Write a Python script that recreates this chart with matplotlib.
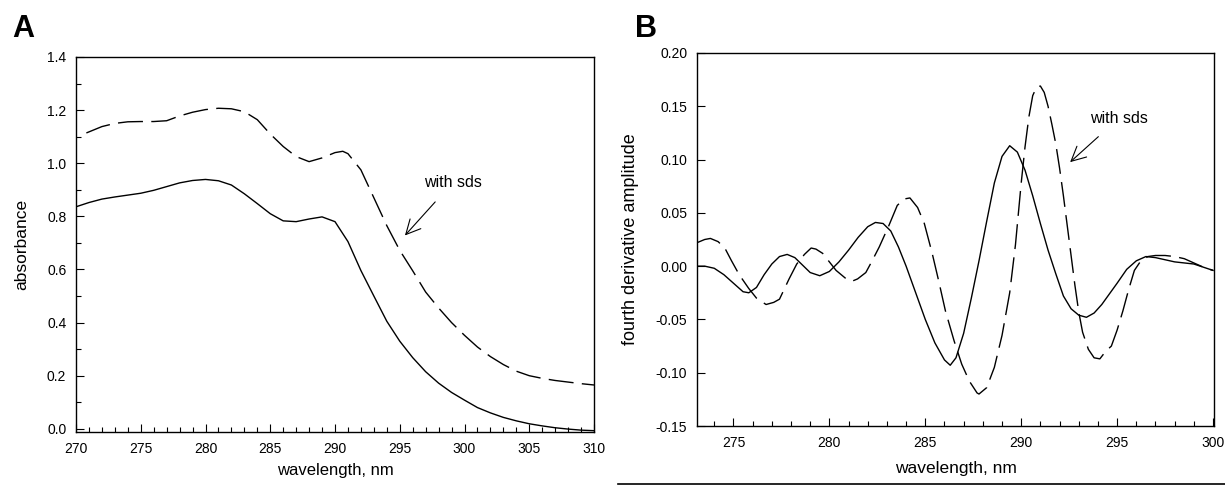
import matplotlib
matplotlib.use("Agg")
import matplotlib.pyplot as plt
from matplotlib.ticker import MultipleLocator, FormatStrFormatter
from matplotlib.lines import Line2D

plt.rcParams['font.family'] = ['Liberation Sans', 'DejaVu Sans']

# ---------------- Panel A data (absorbance) ----------------
a_wl_native = [270, 271, 272, 273, 274, 275, 276, 277, 278, 279, 280, 281, 282, 283,
               284, 285, 286, 287, 288, 289, 290, 291, 292, 293, 294, 295, 296, 297,
               298, 299, 300, 301, 302, 303, 304, 305, 306, 307, 308, 309, 310]
a_abs_native = [0.836, 0.852, 0.865, 0.873, 0.880, 0.887, 0.898, 0.912, 0.926, 0.935,
                0.939, 0.934, 0.918, 0.885, 0.848, 0.810, 0.783, 0.780, 0.790, 0.798,
                0.780, 0.705, 0.596, 0.500, 0.405, 0.330, 0.268, 0.215, 0.172, 0.137,
                0.108, 0.080, 0.060, 0.043, 0.030, 0.019, 0.011, 0.004, -0.001, -0.005,
                -0.007]
a_wl_sds = [270.8, 271.5, 272, 273, 274, 275, 276, 277, 278, 279, 280, 281, 282, 283,
            284, 285, 286, 287, 288, 289, 290, 290.6, 291, 292, 293, 294, 295, 296,
            297, 298, 299, 300, 301, 302, 303, 304, 305, 306, 307, 308, 309, 310]
a_abs_sds = [1.114, 1.128, 1.138, 1.150, 1.156, 1.157, 1.157, 1.160, 1.178, 1.192,
             1.202, 1.207, 1.205, 1.194, 1.164, 1.110, 1.063, 1.025, 1.006, 1.020,
             1.040, 1.045, 1.036, 0.975, 0.870, 0.765, 0.672, 0.595, 0.515, 0.455,
             0.400, 0.352, 0.308, 0.272, 0.242, 0.217, 0.200, 0.190, 0.182, 0.176,
             0.170, 0.165]

# ---------------- Panel B data (fourth derivative) ----------------
b_wl_native = [273.1, 273.5, 274.0, 274.5, 275.0, 275.5, 275.8, 276.2, 276.6, 277.0,
               277.4, 277.8, 278.2, 278.6, 279.0, 279.5, 280.0, 280.5, 281.0, 281.5,
               282.0, 282.4, 282.8, 283.2, 283.6, 284.0, 284.5, 285.0, 285.5, 286.0,
               286.3, 286.6, 287.0, 287.4, 287.8, 288.2, 288.6, 289.0, 289.4, 289.8,
               290.2, 290.6, 291.0, 291.4, 291.8, 292.2, 292.6, 293.0, 293.4, 293.8,
               294.2, 294.6, 295.0, 295.5, 296.0, 296.5, 297.0, 297.5, 298.0, 298.5,
               299.0, 299.5, 300.0]
b_amp_native = [0.000, 0.000, -0.002, -0.008, -0.016, -0.024, -0.025, -0.020, -0.008,
                0.002, 0.009, 0.011, 0.008, 0.001, -0.006, -0.009, -0.005, 0.004,
                0.015, 0.027, 0.037, 0.041, 0.040, 0.033, 0.018, 0.000, -0.025,
                -0.050, -0.072, -0.088, -0.093, -0.086, -0.063, -0.030, 0.005, 0.042,
                0.078, 0.103, 0.113, 0.107, 0.090, 0.066, 0.040, 0.015, -0.007,
                -0.028, -0.040, -0.046, -0.048, -0.044, -0.036, -0.026, -0.016,
                -0.003, 0.005, 0.009, 0.008, 0.006, 0.004, 0.003, 0.002, -0.001,
                -0.004]
b_wl_sds = [273.1, 273.5, 273.8, 274.2, 274.55, 274.9, 275.3, 275.8, 276.2, 276.7,
            277.1, 277.4, 277.9, 278.3, 278.7, 279.05, 279.3, 279.65, 280.0, 280.35,
            280.95, 281.2, 281.47, 281.9, 282.2, 282.6, 283.1, 283.54, 283.9, 284.2,
            284.6, 284.95, 285.36, 285.7, 286.05, 286.5, 286.9, 287.3, 287.7, 287.8,
            288.2, 288.6, 289.0, 289.4, 289.7, 290.0, 290.2, 290.4, 290.6, 290.8,
            291.0, 291.2, 291.4, 291.6, 291.8, 292.0, 292.2, 292.4, 292.6, 292.8,
            293.0, 293.2, 293.5, 293.8, 294.1, 294.4, 294.7, 295.0, 295.3, 295.6,
            295.9, 296.2, 296.6, 297.0, 297.5, 298.0, 298.5, 299.0, 299.5, 300.0]
b_amp_sds = [0.022, 0.025, 0.026, 0.023, 0.017, 0.005, -0.008, -0.021, -0.030, -0.036,
             -0.034, -0.031, -0.012, 0.002, 0.011, 0.017, 0.016, 0.012, 0.004, -0.004,
             -0.013, -0.014, -0.012, -0.006, 0.004, 0.018, 0.038, 0.057, 0.063, 0.064,
             0.055, 0.040, 0.012, -0.014, -0.042, -0.070, -0.092, -0.108, -0.119,
             -0.120, -0.114, -0.095, -0.065, -0.025, 0.020, 0.078, 0.112, 0.140,
             0.160, 0.168, 0.169, 0.163, 0.150, 0.133, 0.115, 0.092, 0.066, 0.038,
             0.010, -0.018, -0.043, -0.062, -0.078, -0.086, -0.087, -0.080, -0.075,
             -0.060, -0.042, -0.022, -0.004, 0.004, 0.009, 0.010, 0.010, 0.009, 0.007,
             0.003, -0.001, -0.004]

a_xticks = [270, 275, 280, 285, 290, 295, 300, 305, 310]
a_yticks = [0.0, 0.2, 0.4, 0.6, 0.8, 1.0, 1.2, 1.4]
b_xticks = [275, 280, 285, 290, 295, 300]
b_yticks = [-0.15, -0.10, -0.05, 0.00, 0.05, 0.10, 0.15, 0.20]

W, H = 1225, 487
fig = plt.figure(figsize=(W / 100, H / 100), dpi=100)

def box(l, t, r, b):
    return [l / W, 1 - b / H, (r - l) / W, (b - t) / H]

axA = fig.add_axes(box(76, 57, 594, 432))
axB = fig.add_axes(box(697, 53, 1214, 426))

DASH = (18, 6)
LW = 1.0

axA.plot(a_wl_native, a_abs_native, color='black', lw=LW)
axA.plot(a_wl_sds, a_abs_sds, color='black', lw=LW, dashes=DASH)
axA.set_xlim(270, 310)
axA.set_ylim(-0.012, 1.4)
axA.set_xticks(a_xticks)
axA.set_yticks(a_yticks)
axA.xaxis.set_minor_locator(MultipleLocator(1))
axA.yaxis.set_minor_locator(MultipleLocator(0.1))
axA.yaxis.set_major_formatter(FormatStrFormatter('%.1f'))

axB.plot(b_wl_native, b_amp_native, color='black', lw=LW)
axB.plot(b_wl_sds, b_amp_sds, color='black', lw=LW, dashes=DASH)
axB.set_xlim(273.1, 300.05)
axB.set_ylim(-0.15, 0.20)
axB.set_xticks(b_xticks)
axB.set_yticks(b_yticks)
axB.xaxis.set_minor_locator(MultipleLocator(1))
axB.yaxis.set_major_formatter(FormatStrFormatter('%.2f'))

for ax in (axA, axB):
    ax.tick_params(which='both', direction='in', top=False, right=False,
                   labelsize=10, colors='black')
    ax.tick_params(which='major', length=6, width=0.8, pad=7)
    ax.tick_params(which='minor', length=3.5, width=0.8)
    for s in ax.spines.values():
        s.set_linewidth(1.0)

axA.set_xlabel('wavelength, nm', fontsize=12)
axA.set_ylabel('absorbance', fontsize=12.5)
axA.xaxis.set_label_coords(0.5, -0.083)
axA.yaxis.set_label_coords(-0.09, 0.5)

axB.set_xlabel('wavelength, nm', fontsize=12.5)
axB.set_ylabel('fourth derivative amplitude', fontsize=13)
axB.xaxis.set_label_coords(0.5, -0.094)
axB.yaxis.set_label_coords(-0.112, 0.5)

axA.annotate('with sds', xy=(295.4, 0.728), xytext=(299.1, 0.928),
             ha='center', va='center', fontsize=11.5,
             arrowprops=dict(arrowstyle='->', color='black', lw=0.8,
                             shrinkA=9, shrinkB=0, mutation_scale=26))
axB.annotate('with sds', xy=(292.55, 0.0976), xytext=(295.1, 0.139),
             ha='center', va='center', fontsize=11.5,
             arrowprops=dict(arrowstyle='->', color='black', lw=0.8,
                             shrinkA=9, shrinkB=0, mutation_scale=26))

fig.text(12 / W, 1 - 37 / H, 'A', fontsize=22, fontweight='bold', va='baseline')
fig.text(635 / W, 1 - 37 / H, 'B', fontsize=22, fontweight='bold', va='baseline')

fig.add_artist(Line2D([618 / W, 1.0], [1 - 484 / H, 1 - 484 / H], color='black', lw=1.2))

fig.savefig('out.png', dpi=100)
